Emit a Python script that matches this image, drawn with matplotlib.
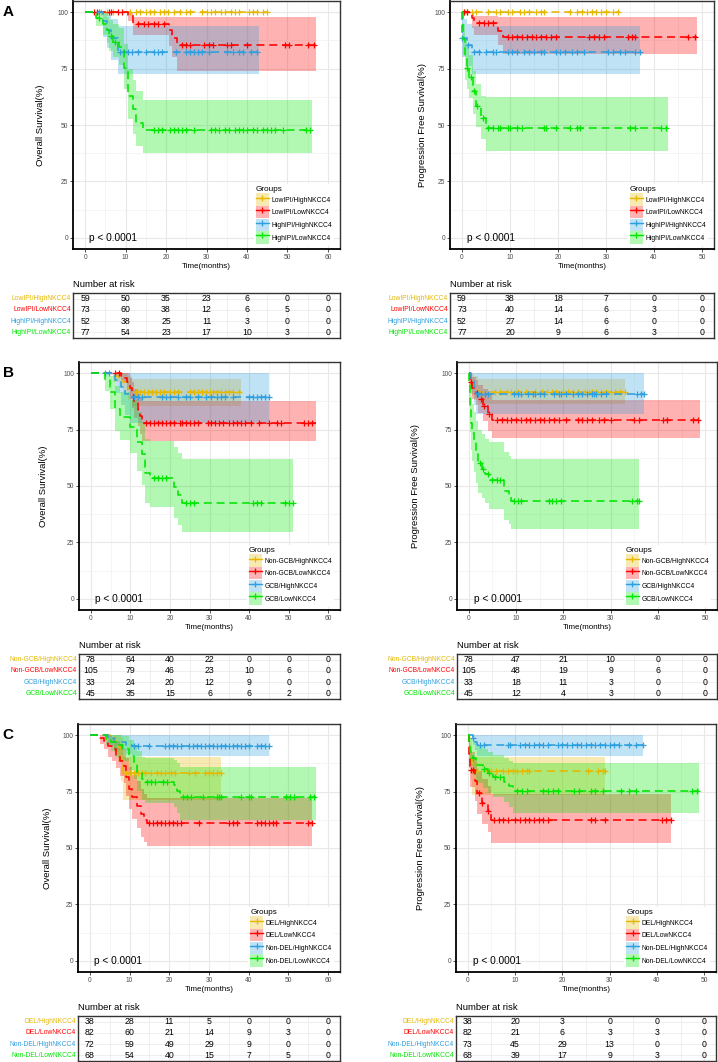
"""
Kaplan-Meier curves (OS / PFS) for IPI, COO and DEL subgroups by NKCC4,
with number-at-risk tables under every plot.
"""

import numpy as np
import matplotlib.pyplot as plt
from matplotlib.lines import Line2D
from matplotlib.patches import Patch
from matplotlib.legend_handler import HandlerTuple
from matplotlib.transforms import blended_transform_factory

plt.rcParams["font.family"] = ["Liberation Sans", "DejaVu Sans"]

COLORS = ["#E7B800", "#FF0000", "#2E9FDF", "#00E600"]

GROUPS_A = ["LowIPI/HighNKCC4", "LowIPI/LowNKCC4", "HighIPI/HighNKCC4", "HighIPI/LowNKCC4"]
GROUPS_B = ["Non-GCB/HighNKCC4", "Non-GCB/LowNKCC4", "GCB/HighNKCC4", "GCB/LowNKCC4"]
GROUPS_C = ["DEL/HighNKCC4", "DEL/LowNKCC4", "Non-DEL/HighNKCC4", "Non-DEL/LowNKCC4"]

# step rows: (time, survival %, lower CI, upper CI); last row = end of follow-up
# ---- A, overall survival
A_OS_1 = [(0, 100, 100, 100), (45, 100, 100, 100)]
A_OS_1_CENS = [4, 5.5, 7, 11, 12.5, 13.5, 15, 16, 17, 18.5, 19.5, 20.5, 22, 23.5, 25, 26, 29, 30, 31, 32,
               33.5, 34.5, 36, 37, 38, 40.5, 41.5, 42.5, 44, 45]
A_OS_2 = [(0, 100, 100, 100), (10.5, 98.6, 96, 100), (11.8, 95, 90, 98), (20.8, 92.3, 85, 98),
          (21.5, 88.8, 80, 98), (22.8, 85.3, 74, 98), (57, 85.3, 74, 98)]
A_OS_2_CENS = [2.3, 3, 5.8, 6.5, 8, 9.2, 13, 14.5, 15.5, 17, 18, 19.5, 24, 25, 26, 29.5, 30.5, 31.5, 35, 36,
               40, 49.5, 50.5, 55, 56.5]
A_OS_3 = [(0, 100, 100, 100), (4.5, 96.2, 89, 100), (5.5, 92.3, 84, 99), (6.5, 88.5, 79, 97),
          (8, 82.3, 72.7, 93.8), (43, 82.3, 72.7, 93.8)]
A_OS_3_CENS = [3.5, 8.5, 9.5, 10.5, 11.5, 13, 15, 17, 18, 19, 22.5, 25, 26, 27, 28, 29, 30.5, 35, 36.5, 38,
               39, 41, 42.5]
A_OS_4 = [(0, 100, 100, 100), (2.7, 97.4, 93.8, 100), (4.5, 94.8, 90, 99.5), (5.5, 92.2, 86.5, 98),
          (6, 89.6, 83, 96.5), (7, 87, 80, 95), (8.3, 84.4, 76.5, 93), (9.5, 75.3, 66, 86),
          (10.5, 63, 52.5, 75), (11.8, 57, 46, 70), (12.6, 51, 40.5, 65), (14.3, 47.6, 37.6, 61.2),
          (56, 47.6, 37.6, 61.2)]
A_OS_4_CENS = [3.5, 6.5, 7.5, 17, 18, 19, 21, 22, 23, 24, 25, 27, 31, 32, 33, 34.5, 35.5, 37, 38, 39, 40,
               41.5, 42.5, 44, 45, 46, 47, 49, 54.5, 55.5]

# ---- A, progression free survival
A_PFS_1 = [(0, 100, 100, 100), (33, 100, 100, 100)]
A_PFS_1_CENS = [0.5, 1, 2, 3, 5.5, 7, 8, 9.5, 10.5, 12, 13, 14, 15.5, 16.5, 17, 22.5, 24, 25, 26, 27, 28, 29,
                30, 31.5, 32.5]
A_PFS_2 = [(0, 100, 100, 100), (2, 97.6, 93, 100), (2.6, 95.2, 90, 98.5), (7.5, 91.9, 85.5, 98),
           (8.5, 89.2, 81.6, 98), (49, 89.2, 81.6, 98)]
A_PFS_2_CENS = [0.5, 1, 3.5, 4.5, 5.5, 6.5, 9.5, 10.5, 11.5, 12.5, 13.5, 14.5, 15.5, 16.5, 17.5, 18.5, 19.5,
                26.5, 27.5, 28.5, 29.5, 34.5, 35.5, 36, 47, 48.5]
A_PFS_3 = [(0, 100, 100, 100), (0.1, 88.5, 80, 97), (1, 85.3, 76, 95), (2, 82.6, 72.7, 93.8),
           (37, 82.6, 72.7, 93.8)]
A_PFS_3_CENS = [0.1, 1.2, 2.5, 3.5, 5, 6.5, 7, 9.5, 10.5, 11.5, 13, 14, 15, 16.5, 17, 19.5, 20.5, 21.5, 23,
                24, 25.5, 30.5, 31.5, 33, 34, 36, 37]
A_PFS_4 = [(0, 100, 100, 100), (0.2, 88.3, 81, 95), (0.6, 79.2, 70, 88), (1, 75.3, 66, 85),
           (1.5, 71.4, 62, 81), (2.3, 64.9, 55, 74), (3, 58.4, 49, 68), (4, 53.2, 44, 63),
           (4.9, 48.7, 38.5, 62.5), (43, 48.7, 38.5, 62.5)]
A_PFS_4_CENS = [1.1, 1.8, 2.6, 3.2, 4.3, 5.5, 6.5, 7.5, 8, 9.5, 10, 11.5, 12.5, 17, 17.5, 19.5, 22.5, 24,
                24.5, 35, 36, 41.5, 42.5]

# ---- B, overall survival
B_OS_1 = [(0, 100, 100, 100), (5.5, 98.7, 96, 100), (7, 97.4, 94, 100), (8, 96, 91.5, 100),
          (9.5, 93.4, 88, 99), (10.5, 91.6, 85.7, 97.5), (38, 91.6, 85.7, 97.5)]
B_OS_1_CENS = [11.5, 12.5, 13.5, 14.5, 15.5, 16.5, 17.5, 18.5, 20, 21, 22, 25, 26, 27, 28, 29, 30, 31, 32,
               33, 34, 35, 36, 37.5]
B_OS_2 = [(0, 100, 100, 100), (7.5, 99, 97.2, 100), (8.5, 98.1, 95.5, 100), (9.2, 96.2, 92.5, 99.9),
          (9.8, 93.3, 88.5, 98), (10.5, 90.5, 84.5, 96), (11, 86.7, 80, 93), (12, 83.8, 76.5, 91),
          (12.5, 80.9, 73, 89), (13, 77.9, 69.9, 87.6), (57, 77.9, 69.9, 87.6)]
B_OS_2_CENS = [6, 7, 14, 15, 16, 17, 18, 19, 20, 21, 22.5, 23, 24, 25, 26, 27, 29.5, 30.5, 31.5, 32.5, 33.5,
               35, 36, 37, 38, 39, 40.5, 42.5, 45, 47, 48, 54, 55, 56]
B_OS_3 = [(0, 100, 100, 100), (6, 97, 91.3, 100), (7.5, 93.9, 86, 100), (8.7, 90.9, 81.5, 100),
          (10, 89.4, 78, 100), (45, 89.4, 78, 100)]
B_OS_3_CENS = [3.5, 4.5, 11, 12, 13, 18, 19, 20, 22, 24, 25, 27, 29, 30.5, 32, 33, 34, 36, 40, 41, 42, 43,
               44, 45]
B_OS_4 = [(0, 100, 100, 100), (3.5, 97, 92, 100), (4.9, 91.6, 84, 99), (6.1, 84.3, 74.5, 94.5),
          (7.4, 80.6, 70.5, 91.5), (10, 76.2, 64.5, 88), (11.6, 69.6, 56.5, 83), (12.9, 64.4, 50.5, 78.5),
          (13.7, 55.6, 42.5, 71), (15, 53.4, 40.9, 70), (20.9, 49.7, 36, 67.5), (22.1, 46, 32.5, 64.5),
          (23, 42.6, 29.6, 61.9), (51, 42.6, 29.6, 61.9)]
B_OS_4_CENS = [16, 17, 18, 19, 24, 25, 26, 41, 42, 43, 49, 50, 51]

# ---- B, progression free survival
B_PFS_1 = [(0, 100, 100, 100), (0.2, 97.4, 94, 100), (0.5, 94.9, 90, 99.5), (1, 93.6, 88, 99),
           (2, 91.6, 86.2, 97.3), (33, 91.6, 86.2, 97.3)]
B_PFS_1_CENS = [5.5, 6.5, 8, 9, 10.5, 12, 14, 15.5, 16.5, 17.5, 18.5, 20, 21, 22, 23, 24.5, 25.5, 26, 27, 28,
                29, 30, 31, 32, 33]
B_PFS_2 = [(0, 100, 100, 100), (0.3, 96.2, 92.5, 99.9), (0.6, 93.3, 88.5, 98.2), (1.5, 91.4, 86, 97),
           (2, 88.6, 82.5, 95), (3, 85.7, 79, 93), (4, 82.1, 74.5, 90.5), (5, 79.1, 71.5, 88),
           (49, 79.1, 71.5, 88)]
B_PFS_2_CENS = [0.5, 1.8, 2.5, 3.3, 4.3, 6, 7, 8, 9, 10, 11, 12, 13, 14, 15, 16, 17, 18, 19, 20.5, 23, 24,
                25, 26, 27.5, 28.5, 30, 35, 36, 41, 42, 47.5, 48.5]
B_PFS_3 = [(0, 100, 100, 100), (0.5, 97, 91, 100), (1, 93.9, 86, 100), (1.6, 90.6, 82, 100),
           (37, 90.6, 82, 100)]
B_PFS_3_CENS = [2, 2.5, 3.5, 4, 9.5, 10.5, 11, 12.5, 13.5, 14, 15, 16, 18, 19, 19.5, 20.5, 22, 23, 24, 25,
                26, 26.5, 27, 28, 29, 35.5, 36.5, 37]
B_PFS_4 = [(0, 100, 100, 100), (0.1, 95.6, 89.5, 100), (0.2, 91.1, 83, 99), (0.3, 84.4, 74, 95),
           (0.4, 77.8, 66, 90), (0.6, 73.3, 61, 86.5), (1, 68.9, 56, 83), (1.5, 64.4, 51.5, 79),
           (2, 60, 47, 75), (2.8, 57.6, 44.5, 73), (3.4, 55.2, 42.5, 71), (4.2, 52.8, 40, 69.5),
           (7.5, 47.9, 35, 65), (8.5, 45.4, 33, 63.5), (9, 43.5, 30.9, 61.9), (36, 43.5, 30.9, 61.9)]
B_PFS_4_CENS = [2.3, 3, 4, 5, 6, 6.5, 9.5, 10.5, 11, 17, 17.5, 18.5, 19.5, 34.5, 35.5, 36]

# ---- C, overall survival
C_OS_1 = [(0, 100, 100, 100), (6, 97.4, 92.5, 100), (7, 94.7, 88, 100), (7.8, 89.1, 79.5, 99),
          (8.3, 83.1, 71.3, 90.5), (33, 83.1, 71.3, 90.5)]
C_OS_1_CENS = [9, 10, 11, 12, 13, 14, 15.5, 17, 18, 19, 20.5, 21.5, 25, 26.5, 29, 30, 31, 32, 33]
C_OS_2 = [(0, 100, 100, 100), (2.5, 98.8, 96.3, 100), (3.5, 97.5, 94, 100), (4.5, 95.1, 90.5, 99.9),
          (5.5, 93.8, 88.5, 99.2), (6.5, 91.3, 85.5, 97.5), (7.5, 88.8, 82, 96), (8.5, 86.3, 79, 94),
          (9.2, 81.3, 73, 90), (9.8, 76.3, 67.5, 86), (10.6, 72.5, 63, 82.5), (11.8, 68.8, 59, 79.5),
          (12.8, 65, 55, 76), (13.6, 62.5, 52.5, 74), (14.5, 61.3, 51, 72), (56, 61.3, 51, 72)]
C_OS_2_CENS = [15, 16, 17, 18, 19, 20, 21, 22, 23, 27.5, 35, 36, 37, 42, 43, 44, 45, 46, 47, 55, 56]
C_OS_3 = [(0, 100, 100, 100), (4.5, 98.6, 95.9, 100), (6, 97.2, 93.5, 100), (9, 95.8, 91.5, 100),
          (10.5, 95.3, 90.9, 100), (45, 95.3, 90.9, 100)]
C_OS_3_CENS = [11, 12, 15, 19, 20, 21, 22, 23, 25, 26, 27, 28, 29, 30, 31, 32, 33, 34, 35, 36, 37, 38, 39,
               40, 42, 43, 44, 45]
C_OS_4 = [(0, 100, 100, 100), (4, 98.5, 95.6, 100), (5.2, 97, 93, 100), (6.5, 95.5, 90.5, 100),
          (8.1, 94, 88.5, 99.6), (9.8, 91, 84.5, 97.9), (11, 88, 80.7, 95.7), (11.9, 83.8, 75.5, 93),
          (13.1, 80.4, 71.5, 90.5), (14, 79.4, 70, 89.8), (21.1, 77.9, 68, 89), (21.9, 75.4, 65.5, 87.5),
          (22.8, 72.5, 62.5, 86), (57, 72.5, 62.5, 86)]
C_OS_4_CENS = [14.5, 15.5, 16.5, 18.5, 19.5, 23.5, 24.5, 25.5, 28.5, 32, 32.5, 33, 38, 40, 40.5, 49.5, 50.5,
               51.5, 55.5, 56.5]

# ---- C, progression free survival
C_PFS_1 = [(0, 100, 100, 100), (0.2, 97.4, 92.5, 100), (0.4, 94.7, 88, 100), (0.6, 89.5, 80, 99),
           (0.8, 84.1, 73.5, 90.5), (29, 84.1, 73.5, 90.5)]
C_PFS_1_CENS = [1, 2, 4.5, 5, 6, 7.5, 8.5, 9.5, 10.5, 11.5, 12.5, 13, 25.5, 27.5, 28.5, 29]
C_PFS_2 = [(0, 100, 100, 100), (0.2, 91.5, 85.5, 97.5), (0.5, 84.6, 77, 92.5), (1.5, 79.5, 71, 88.5),
           (2, 74.3, 65, 84), (2.9, 69.9, 60.5, 80.5), (4.2, 66.6, 57, 77.5), (5, 62.2, 52.2, 74),
           (43, 62.2, 52.2, 74)]
C_PFS_2_CENS = [0.6, 1, 2.3, 3.1, 4.3, 5.5, 6.5, 7.5, 8.5, 10, 11, 12, 13, 14, 15, 16, 17, 26, 27, 29, 41,
                42, 43]
C_PFS_3 = [(0, 100, 100, 100), (1, 98.6, 95.9, 100), (1.5, 97.2, 93.3, 100), (2, 95.6, 90.7, 100),
           (37, 95.6, 90.7, 100)]
C_PFS_3_CENS = [1.2, 2.5, 3.5, 8.5, 9, 11, 12, 13, 14, 15, 16, 17, 19, 20, 21, 22, 23, 24, 25, 26, 27, 28,
                29, 30, 31, 32, 34, 35.5, 37]
C_PFS_4 = [(0, 100, 100, 100), (0.2, 97.1, 93, 100), (0.5, 92.6, 86.5, 99), (1, 89.7, 82.5, 97),
           (1.8, 86.8, 79, 95.2), (3.2, 84.9, 76.5, 93.8), (4.2, 83.1, 74.5, 92.5), (5.3, 81.3, 72.5, 91.2),
           (7.7, 79.4, 70.2, 89.8), (8.7, 77.4, 68, 88.5), (9.5, 75.4, 65.7, 87.5), (49, 75.4, 65.7, 87.5)]
C_PFS_4_CENS = [1.2, 3.5, 4.5, 5.8, 6.8, 10.5, 11.5, 12.5, 16, 17, 18, 19, 22.5, 23.5, 26, 27, 28.5, 32.5,
                34, 35.5, 47.5, 48.5]

# number at risk (every 10 months)
RISK_A_OS = [[59, 50, 35, 23, 6, 0, 0], [73, 60, 38, 12, 6, 5, 0],
             [52, 38, 25, 11, 3, 0, 0], [77, 54, 23, 17, 10, 3, 0]]
RISK_A_PFS = [[59, 38, 18, 7, 0, 0], [73, 40, 14, 6, 3, 0],
              [52, 27, 14, 6, 0, 0], [77, 20, 9, 6, 3, 0]]
RISK_B_OS = [[78, 64, 40, 22, 0, 0, 0], [105, 79, 46, 23, 10, 6, 0],
             [33, 24, 20, 12, 9, 0, 0], [45, 35, 15, 6, 6, 2, 0]]
RISK_B_PFS = [[78, 47, 21, 10, 0, 0], [105, 48, 19, 9, 6, 0],
              [33, 18, 11, 3, 0, 0], [45, 12, 4, 3, 0, 0]]
RISK_C_OS = [[38, 28, 11, 5, 0, 0, 0], [82, 60, 21, 14, 9, 3, 0],
             [72, 59, 49, 29, 9, 0, 0], [68, 54, 40, 15, 7, 5, 0]]
RISK_C_PFS = [[38, 20, 3, 0, 0, 0], [82, 21, 6, 3, 3, 0],
              [73, 45, 29, 13, 0, 0], [68, 39, 17, 9, 3, 0]]

FIG_W, FIG_H = 718, 1062


def px_rect(l, t, r, b):
    return [l / FIG_W, 1 - b / FIG_H, (r - l) / FIG_W, (b - t) / FIG_H]


def style_grid(ax, xmax):
    ax.set_xticks(np.arange(0, xmax + 1, 10))
    ax.set_xticks(np.arange(5, xmax + 5, 10), minor=True)
    ax.grid(which="major", color="#E8E8E8", lw=0.8)
    ax.grid(which="minor", color="#F1F1F1", lw=0.5)
    ax.set_axisbelow(True)


def draw_km(ax, curves, cens, groups, xmax, ylabel, ylab_px, axw, axh):
    for steps, cs, color in zip(curves, cens, COLORS):
        t, s, lo, hi = np.array(steps, dtype=float).T
        ax.fill_between(t, lo, hi, step="post", color=color, alpha=0.3, lw=0)
    for steps, cs, color in zip(curves, cens, COLORS):
        t, s, lo, hi = np.array(steps, dtype=float).T
        ax.step(t, s, where="post", color=color, lw=1.15, ls=(0, (5, 3)))
        idx = np.searchsorted(t, cs, side="right") - 1
        ax.plot(cs, s[idx], ls="none", marker="+", color=color, ms=4.5, mew=0.9)

    pad = 0.05 * xmax
    ax.set_xlim(-pad, xmax + pad)
    ax.set_ylim(-5, 105)
    style_grid(ax, xmax)
    ax.set_yticks([0, 25, 50, 75, 100])
    ax.set_yticks([12.5, 37.5, 62.5, 87.5], minor=True)
    ax.tick_params(which="major", labelsize=4.8, labelcolor="#4D4D4D", color="#333333",
                   length=2, width=0.6, pad=1.5)
    ax.tick_params(which="minor", length=0)
    for side in ["left", "bottom"]:
        ax.spines[side].set_linewidth(1.3)
        ax.spines[side].set_color("black")
    for side in ["top", "right"]:
        ax.spines[side].set_linewidth(1.0)
        ax.spines[side].set_color("#333333")

    ax.set_xlabel("Time(months)", fontsize=5.8)
    ax.xaxis.set_label_coords(0.5, -14 / axh)
    ax.set_ylabel(ylabel, fontsize=6.8)
    ax.yaxis.set_label_coords(-ylab_px / axw, 0.5)
    ax.text(1, 0, "p < 0.0001", fontsize=7.3, va="center", ha="left")

    # key = translucent band with the line and a censor cross drawn over it
    handles = [(Patch(facecolor=c, alpha=0.3, lw=0),
                Line2D([], [], color=c, lw=1.0, marker="+", ms=4.5, mew=0.9))
               for c in COLORS]
    leg = ax.legend(handles, groups, handler_map={tuple: HandlerTuple(ndivide=1, pad=0)},
                    title="Groups", loc="lower right", bbox_to_anchor=(0.99, 0.0),
                    fontsize=4.9, title_fontsize=5.9, frameon=True, facecolor="white",
                    edgecolor="none", framealpha=1, handlelength=1.9, handleheight=2.4,
                    labelspacing=0.05, handletextpad=0.35, borderpad=0.3, alignment="left")
    leg.get_frame().set_boxstyle("square", pad=0)


def draw_table(ax, counts, groups, xmax):
    pad = 0.05 * xmax
    ax.set_xlim(-pad, xmax + pad)
    ax.set_ylim(4.5, 0.5)
    times = np.arange(0, xmax + 1, 10)
    for x in np.arange(0, xmax + 1, 5):
        ax.axvline(x, color="#EBEBEB", lw=0.6, zorder=0)
    for row in range(1, 5):
        ax.axhline(row, color="#EBEBEB", lw=0.6, zorder=0)
    trans = blended_transform_factory(ax.transAxes, ax.transData)
    for row, (vals, lab, color) in enumerate(zip(counts, groups, COLORS), start=1):
        for t, v in zip(times, vals):
            ax.text(t, row, str(v), ha="center", va="center", fontsize=6.3)
        ax.text(-0.008, row, lab, transform=trans, ha="right", va="center",
                color=color, fontsize=4.9)
    ax.set_xticks([])
    ax.set_yticks([])
    for sp in ax.spines.values():
        sp.set_linewidth(1.0)
        sp.set_color("#333333")
    ax.set_title("Number at risk", loc="left", fontsize=6.8, pad=4.5)


fig = plt.figure(figsize=(FIG_W / 100, FIG_H / 100), dpi=100)

panels = [
    # letter, top, left-col (l, r, ylab), right-col (l, r, ylab), data
    ("A", 1, (73, 340, 28), (450, 714, 23),
     [A_OS_1, A_OS_2, A_OS_3, A_OS_4], [A_OS_1_CENS, A_OS_2_CENS, A_OS_3_CENS, A_OS_4_CENS],
     [A_PFS_1, A_PFS_2, A_PFS_3, A_PFS_4], [A_PFS_1_CENS, A_PFS_2_CENS, A_PFS_3_CENS, A_PFS_4_CENS],
     RISK_A_OS, RISK_A_PFS, GROUPS_A),
    ("B", 362, (79, 340, 31), (457, 717, 37),
     [B_OS_1, B_OS_2, B_OS_3, B_OS_4], [B_OS_1_CENS, B_OS_2_CENS, B_OS_3_CENS, B_OS_4_CENS],
     [B_PFS_1, B_PFS_2, B_PFS_3, B_PFS_4], [B_PFS_1_CENS, B_PFS_2_CENS, B_PFS_3_CENS, B_PFS_4_CENS],
     RISK_B_OS, RISK_B_PFS, GROUPS_B),
    ("C", 724, (78, 340, 26), (456, 716, 31),
     [C_OS_1, C_OS_2, C_OS_3, C_OS_4], [C_OS_1_CENS, C_OS_2_CENS, C_OS_3_CENS, C_OS_4_CENS],
     [C_PFS_1, C_PFS_2, C_PFS_3, C_PFS_4], [C_PFS_1_CENS, C_PFS_2_CENS, C_PFS_3_CENS, C_PFS_4_CENS],
     RISK_C_OS, RISK_C_PFS, GROUPS_C),
]

for letter, top, lcol, rcol, os_c, os_cens, pfs_c, pfs_cens, risk_os, risk_pfs, groups in panels:
    bottom = top + 248
    for (l, r, ylab), curves, cens, risk, xmax, ylabel in [
        (lcol, os_c, os_cens, risk_os, 60, "Overall Survival(%)"),
        (rcol, pfs_c, pfs_cens, risk_pfs, 50, "Progression Free Survival(%)"),
    ]:
        ax = fig.add_axes(px_rect(l, top, r, bottom))
        draw_km(ax, curves, cens, groups, xmax, ylabel, ylab, r - l, bottom - top)
        tax = fig.add_axes(px_rect(l, top + 292, r, top + 337))
        draw_table(tax, risk, groups, xmax)
    fig.text(8 / FIG_W, 1 - (top + 11) / FIG_H, letter, fontsize=11, fontweight="bold",
             ha="center", va="center")

fig.savefig("out.png", dpi=100)
